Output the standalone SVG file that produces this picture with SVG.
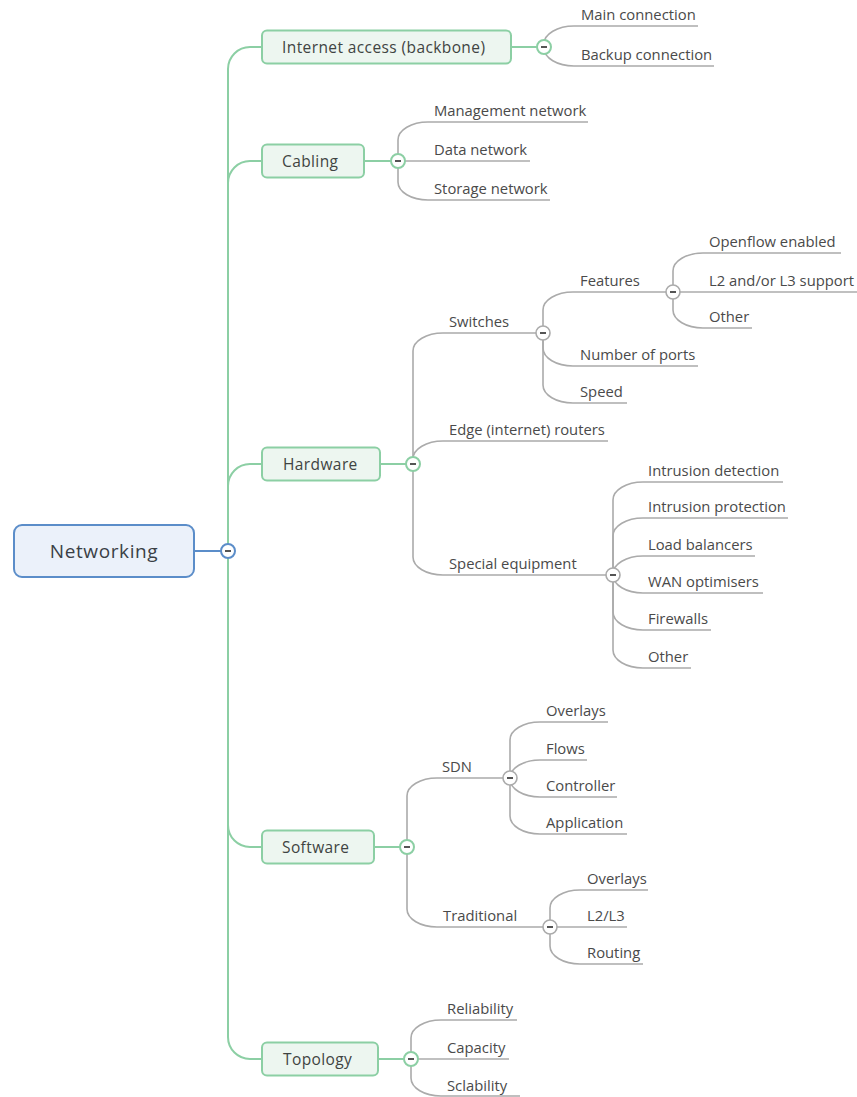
<svg xmlns="http://www.w3.org/2000/svg" width="857" height="1097" viewBox="0 0 857 1097">
  <style>
    .bg { fill: #ffffff; }
    .root-box { fill: #ebf1fa; stroke: #5b8dc9; stroke-width: 2; }
    .root-text { font-family: "Open Sans", "Noto Sans", sans-serif; font-size: 19px; letter-spacing: 0.6px; fill: #3a3f45; }
    .topic-box { fill: #edf6f0; stroke: #8ccfa4; stroke-width: 2; }
    .topic-text { font-family: "Open Sans", "Noto Sans", sans-serif; font-size: 15.5px; letter-spacing: 0.4px; fill: #3f4442; }
    .leaf-text { font-family: "Open Sans", "Noto Sans", sans-serif; font-size: 14.8px; fill: #4a4a4a; }
    .green { fill: none; stroke: #8ccfa4; stroke-width: 2; }
    .blue { fill: none; stroke: #5b8dc9; stroke-width: 2; }
    .gray { fill: none; stroke: #ababab; stroke-width: 1.6; }
    .knob-green { fill: #ffffff; stroke: #8ccfa4; stroke-width: 2; }
    .knob-blue { fill: #ffffff; stroke: #5b8dc9; stroke-width: 2; }
    .knob-gray { fill: #ffffff; stroke: #ababab; stroke-width: 1.6; }
    .dash { stroke: #555555; stroke-width: 2; }
  </style>
  <defs>
    <g id="knob-mark"><line class="dash" x1="-3" y1="0" x2="3" y2="0"/></g>
  </defs>
  <rect class="bg" x="0" y="0" width="857" height="1097"/>

  <!-- connectors -->
  <g id="connectors">
    <!-- root to main topics -->
    <path class="blue" d="M194 551 H221"/>
    <path class="green" d="M228 69 V1037"/>
    <path class="green" d="M228 69 A22 22 0 0 1 250 47 H262"/>
    <path class="green" d="M228 183 A22 22 0 0 1 250 161 H262"/>
    <path class="green" d="M228 486 A22 22 0 0 1 250 464 H262"/>
    <path class="green" d="M228 825 A22 22 0 0 0 250 847 H262"/>
    <path class="green" d="M228 1037 A22 22 0 0 0 250 1059 H262"/>
    <!-- main topic stubs -->
    <path class="green" d="M511 47 H537"/>
    <path class="green" d="M364 161 H391"/>
    <path class="green" d="M380 464 H406"/>
    <path class="green" d="M374 847 H400"/>
    <path class="green" d="M378 1059 H404"/>

    <!-- Internet access -->
    <path class="gray" d="M544 47 V44 A30 18 0 0 1 574 26 H698"/>
    <path class="gray" d="M544 47 V48 A30 18 0 0 0 574 66 H714"/>
    <!-- Cabling -->
    <path class="gray" d="M398 161 V140 A30 18 0 0 1 428 122 H588"/>
    <path class="gray" d="M398 161 H530"/>
    <path class="gray" d="M398 161 V182 A30 18 0 0 0 428 200 H550"/>
    <!-- Hardware -->
    <path class="gray" d="M413 464 V351 A30 18 0 0 1 443 333 H543"/>
    <path class="gray" d="M413 464 V459 A30 18 0 0 1 443 441 H608"/>
    <path class="gray" d="M413 464 V557 A30 18 0 0 0 443 575 H613"/>
    <!-- Switches -->
    <path class="gray" d="M543 333 V310 A30 18 0 0 1 573 292 H673"/>
    <path class="gray" d="M543 333 V348 A30 18 0 0 0 573 366 H698"/>
    <path class="gray" d="M543 333 V385 A30 18 0 0 0 573 403 H627"/>
    <!-- Features -->
    <path class="gray" d="M673 292 V271 A30 18 0 0 1 703 253 H841"/>
    <path class="gray" d="M673 292 H857"/>
    <path class="gray" d="M673 292 V310 A30 18 0 0 0 703 328 H752"/>
    <!-- Special equipment -->
    <path class="gray" d="M613 575 V500 A30 18 0 0 1 643 482 H783"/>
    <path class="gray" d="M613 575 V536 A30 18 0 0 1 643 518 H788"/>
    <path class="gray" d="M613 575 V574 A30 18 0 0 1 643 556 H755"/>
    <path class="gray" d="M613 575 A30 18 0 0 0 643 593 H763"/>
    <path class="gray" d="M613 575 V612 A30 18 0 0 0 643 630 H711"/>
    <path class="gray" d="M613 575 V650 A30 18 0 0 0 643 668 H691"/>
    <!-- Software -->
    <path class="gray" d="M407 847 V796 A30 18 0 0 1 437 778 H510"/>
    <path class="gray" d="M407 847 V909 A30 18 0 0 0 437 927 H550"/>
    <!-- SDN -->
    <path class="gray" d="M510 778 V740 A30 18 0 0 1 540 722 H608"/>
    <path class="gray" d="M510 778 A30 18 0 0 1 540 760 H587"/>
    <path class="gray" d="M510 778 V779 A30 18 0 0 0 540 797 H617"/>
    <path class="gray" d="M510 778 V816 A30 18 0 0 0 540 834 H627"/>
    <!-- Traditional -->
    <path class="gray" d="M550 927 V908 A30 18 0 0 1 580 890 H648"/>
    <path class="gray" d="M550 927 H627"/>
    <path class="gray" d="M550 927 V946 A30 18 0 0 0 580 964 H643"/>
    <!-- Topology -->
    <path class="gray" d="M411 1059 V1038 A30 18 0 0 1 441 1020 H517"/>
    <path class="gray" d="M411 1059 H509"/>
    <path class="gray" d="M411 1059 V1078 A30 18 0 0 0 441 1096 H520"/>

    <!-- collapse knobs -->
    <g>
      <circle class="knob-blue" cx="228" cy="551" r="7"/><use href="#knob-mark" x="228" y="551"/>
      <circle class="knob-green" cx="544" cy="47" r="7"/><use href="#knob-mark" x="544" y="47"/>
      <circle class="knob-green" cx="398" cy="161" r="7"/><use href="#knob-mark" x="398" y="161"/>
      <circle class="knob-green" cx="413" cy="464" r="7"/><use href="#knob-mark" x="413" y="464"/>
      <circle class="knob-green" cx="407" cy="847" r="7"/><use href="#knob-mark" x="407" y="847"/>
      <circle class="knob-green" cx="411" cy="1059" r="7"/><use href="#knob-mark" x="411" y="1059"/>
      <circle class="knob-gray" cx="543" cy="333" r="7"/><use href="#knob-mark" x="543" y="333"/>
      <circle class="knob-gray" cx="673" cy="292" r="7"/><use href="#knob-mark" x="673" y="292"/>
      <circle class="knob-gray" cx="613" cy="575" r="7"/><use href="#knob-mark" x="613" y="575"/>
      <circle class="knob-gray" cx="510" cy="778" r="7"/><use href="#knob-mark" x="510" y="778"/>
      <circle class="knob-gray" cx="550" cy="927" r="7"/><use href="#knob-mark" x="550" y="927"/>
    </g>
  </g>

  <!-- central topic -->
  <g id="networking">
    <rect class="root-box" x="14" y="525" width="180" height="52" rx="8"/>
    <text class="root-text" x="104" y="558" text-anchor="middle">Networking</text>
  </g>

  <!-- main topics -->
  <g id="internet-access">
    <rect class="topic-box" x="262" y="30.5" width="249" height="33" rx="5"/>
    <text class="topic-text" x="282" y="52.5">Internet access (backbone)</text>
  </g>
  <g id="cabling">
    <rect class="topic-box" x="262" y="144.5" width="102" height="33" rx="5"/>
    <text class="topic-text" x="282" y="166.5">Cabling</text>
  </g>
  <g id="hardware">
    <rect class="topic-box" x="262" y="447.5" width="118" height="33" rx="5"/>
    <text class="topic-text" x="283" y="469.5">Hardware</text>
  </g>
  <g id="software">
    <rect class="topic-box" x="262" y="830.5" width="112" height="33" rx="5"/>
    <text class="topic-text" x="282" y="852.5">Software</text>
  </g>
  <g id="topology">
    <rect class="topic-box" x="262" y="1042.5" width="116" height="33" rx="5"/>
    <text class="topic-text" x="283" y="1064.5">Topology</text>
  </g>

  <!-- Internet access children -->
  <g id="main-connection"><text class="leaf-text" x="581" y="20">Main connection</text></g>
  <g id="backup-connection"><text class="leaf-text" x="581" y="60">Backup connection</text></g>

  <!-- Cabling children -->
  <g id="management-network"><text class="leaf-text" x="434" y="116">Management network</text></g>
  <g id="data-network"><text class="leaf-text" x="434" y="155">Data network</text></g>
  <g id="storage-network"><text class="leaf-text" x="434" y="194">Storage network</text></g>

  <!-- Hardware children -->
  <g id="switches"><text class="leaf-text" x="449" y="327">Switches</text></g>
  <g id="edge-routers"><text class="leaf-text" x="449" y="435">Edge (internet) routers</text></g>
  <g id="special-equipment"><text class="leaf-text" x="449" y="569">Special equipment</text></g>

  <!-- Switches children -->
  <g id="features"><text class="leaf-text" x="580" y="286">Features</text></g>
  <g id="number-of-ports"><text class="leaf-text" x="580" y="360">Number of ports</text></g>
  <g id="speed"><text class="leaf-text" x="580" y="397">Speed</text></g>

  <!-- Features children -->
  <g id="openflow-enabled"><text class="leaf-text" x="709" y="247">Openflow enabled</text></g>
  <g id="l2-l3-support"><text class="leaf-text" x="709" y="286">L2 and/or L3 support</text></g>
  <g id="features-other"><text class="leaf-text" x="709" y="322">Other</text></g>

  <!-- Special equipment children -->
  <g id="intrusion-detection"><text class="leaf-text" x="648" y="476">Intrusion detection</text></g>
  <g id="intrusion-protection"><text class="leaf-text" x="648" y="512">Intrusion protection</text></g>
  <g id="load-balancers"><text class="leaf-text" x="648" y="550">Load balancers</text></g>
  <g id="wan-optimisers"><text class="leaf-text" x="648" y="587">WAN optimisers</text></g>
  <g id="firewalls"><text class="leaf-text" x="648" y="624">Firewalls</text></g>
  <g id="special-other"><text class="leaf-text" x="648" y="662">Other</text></g>

  <!-- Software children -->
  <g id="sdn"><text class="leaf-text" x="442" y="772">SDN</text></g>
  <g id="traditional"><text class="leaf-text" x="443" y="921">Traditional</text></g>

  <!-- SDN children -->
  <g id="sdn-overlays"><text class="leaf-text" x="546" y="716">Overlays</text></g>
  <g id="flows"><text class="leaf-text" x="546" y="754">Flows</text></g>
  <g id="controller"><text class="leaf-text" x="546" y="791">Controller</text></g>
  <g id="application"><text class="leaf-text" x="546" y="828">Application</text></g>

  <!-- Traditional children -->
  <g id="traditional-overlays"><text class="leaf-text" x="587" y="884">Overlays</text></g>
  <g id="l2-l3"><text class="leaf-text" x="587" y="921">L2/L3</text></g>
  <g id="routing"><text class="leaf-text" x="587" y="958">Routing</text></g>

  <!-- Topology children -->
  <g id="reliability"><text class="leaf-text" x="447" y="1014">Reliability</text></g>
  <g id="capacity"><text class="leaf-text" x="447" y="1053">Capacity</text></g>
  <g id="sclability"><text class="leaf-text" x="447" y="1091">Sclability</text></g>
</svg>
